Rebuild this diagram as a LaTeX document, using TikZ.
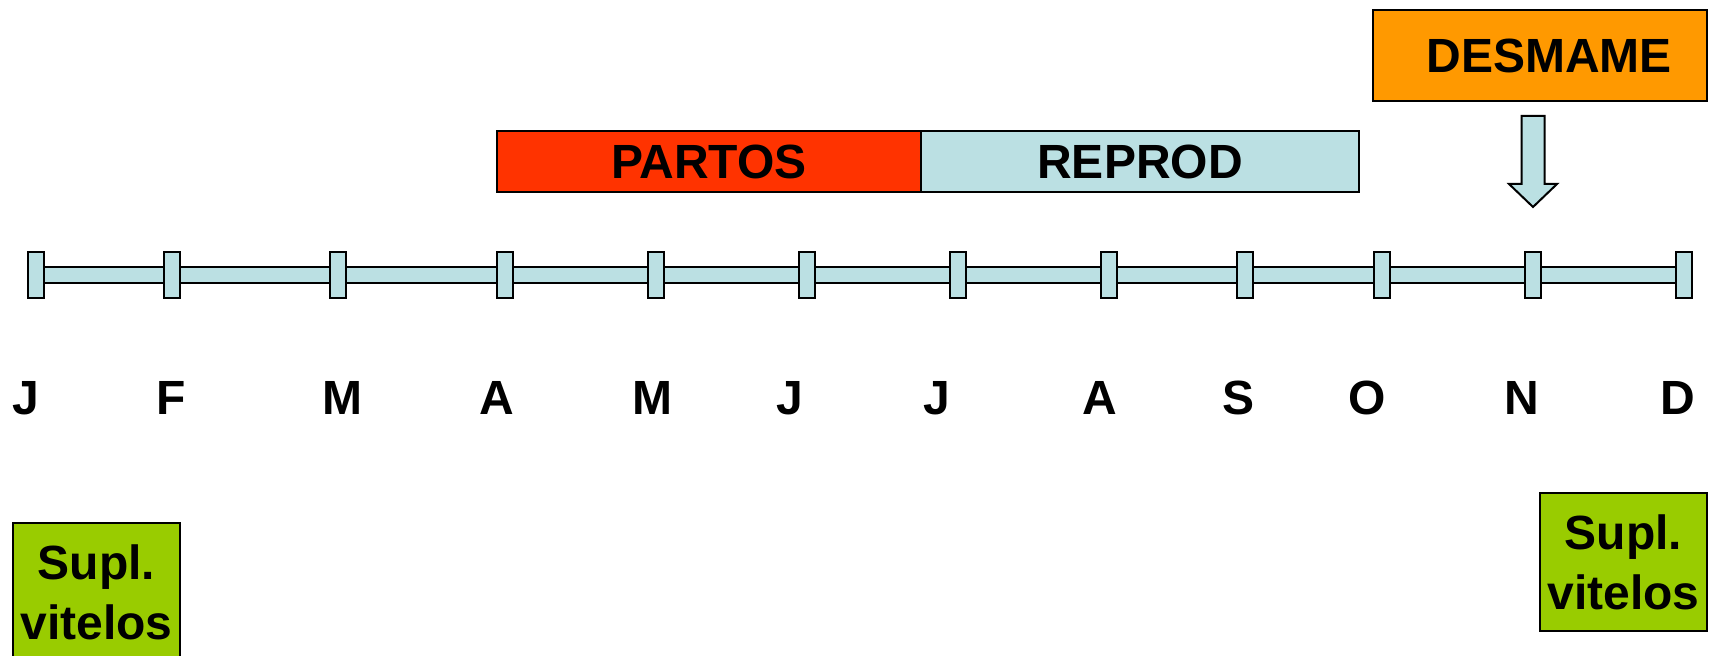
\documentclass[tikz,border=0pt]{standalone}
\usepackage{fontspec}
\setmainfont{Liberation Sans}
\usetikzlibrary{calc}
\definecolor{lblue}{RGB}{187,224,227}
\definecolor{pred}{RGB}{255,51,0}
\definecolor{porange}{RGB}{255,153,0}
\definecolor{pgreen}{RGB}{153,204,0}
\begin{document}
\begin{tikzpicture}[x=0.5pt,y=-0.5pt,
  lbl/.style={font=\bfseries\fontsize{24}{30}\selectfont, inner sep=0pt},
  tickbox/.style={draw=black, line width=1pt, fill=lblue, minimum width=8pt, minimum height=23pt, inner sep=0pt, outer sep=0pt},
  bandbox/.style={draw=black, line width=1pt, minimum height=30.5pt, inner sep=0pt, outer sep=0pt, font=\bfseries\fontsize{24}{30}\selectfont},
  suplbox/.style={draw=black, line width=1pt, fill=pgreen, minimum width=83.5pt, minimum height=69pt, inner sep=0pt, align=center, font=\bfseries\fontsize{24}{30}\selectfont}
]
\useasboundingbox (0,0) rectangle (1711,656);
% timeline bar
\coordinate (barL) at (36,267);
\coordinate (barR) at (1684,283);
\draw[line width=1pt, fill=lblue] (barL) rectangle (barR);
% ticks
\foreach \x [count=\i] in {36,172,338,505,656,807,958,1109,1245,1382,1533,1684}
  \node[tickbox] (t\i) at (\x,275) {};
% month labels
\foreach \x/\m [count=\i] in {26/J,171/F,342/M,497/A,652/M,790/J,937/J,1100/A,1238/S,1367/O,1522/N,1678/D}
  \node[lbl] (m\i) at (\x,398) {\m};
% bands
\node[bandbox, fill=pred, minimum width=212pt] (partos) at (709,161.5) {PARTOS};
\node[bandbox, fill=lblue, minimum width=219pt] (reprod) at (1140,161.5) {REPROD};
\node[bandbox, fill=porange, minimum width=167pt, minimum height=45.5pt] (desmame) at (1540,55.5) {\hspace*{9pt}DESMAME};
% block arrow
\coordinate (arr) at (1533,116);
\draw[line width=1pt, fill=lblue, line join=miter]
  ($(arr)+(-11.5,0)$) -- ($(arr)+(11.5,0)$) -- ($(arr)+(11.5,68)$) -- ($(arr)+(24,68)$)
  -- ($(arr)+(0,91)$) -- ($(arr)+(-24,68)$) -- ($(arr)+(-11.5,68)$) -- cycle;
% supplement boxes
\node[suplbox] (supl1) at (96.5,592) {Supl.\\vitelos};
\node[suplbox] (supl2) at (1623.5,562) {Supl.\\vitelos};
\end{tikzpicture}
\end{document}
